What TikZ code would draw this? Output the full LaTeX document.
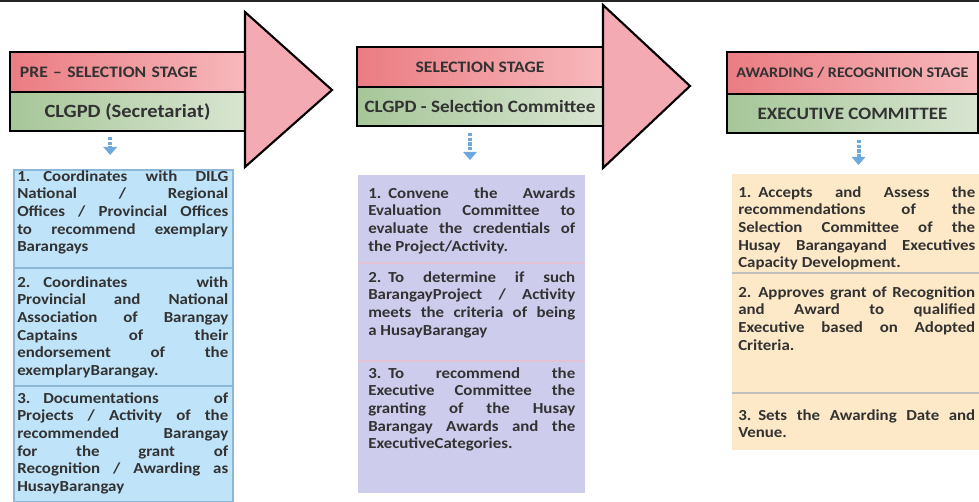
\documentclass[tikz,border=0pt]{standalone}
\usepackage{fontspec}
\setmainfont{Carlito}[FakeStretch=1.1]
\usetikzlibrary{arrows.meta,positioning}
\tikzset {>=Stealth}

\definecolor{inkgray}{RGB}{50,50,50}
\definecolor{stagepink}{RGB}{234,124,130}
\definecolor{stagepinklt}{RGB}{247,184,188}
\definecolor{headpink}{RGB}{244,170,178}
\definecolor{groupgreen}{RGB}{166,198,152}
\definecolor{groupgreenlt}{RGB}{216,229,209}
\definecolor{boxblue}{RGB}{191,227,248}
\definecolor{boxblueline}{RGB}{140,184,216}
\definecolor{boxlilac}{RGB}{206,204,237}
\definecolor{boxpeach}{RGB}{249,203,152}
\definecolor{boxpeachlt}{RGB}{253,233,200}
\definecolor{arrowblue}{RGB}{111,168,220}

\newcommand{\hsitem}[3]{\hangindent=#1\hangafter=1\noindent\makebox[#1][l]{#2}#3}

\tikzset{
  stagebar/.style={draw=black,line width=1.6pt,left color=stagepink,right color=stagepinklt,
    inner sep=0pt,outer sep=0pt,minimum height=30pt,text=inkgray,
    font=\fontsize{12}{14}\selectfont\bfseries},
  groupbar/.style={draw=black,line width=1.6pt,left color=groupgreen,right color=groupgreenlt,
    inner sep=0pt,outer sep=0pt,minimum height=29.25pt,text=inkgray,
    font=\fontsize{13}{15}\selectfont\bfseries},
  stagehead/.style={draw=black,line width=1.6pt,fill=headpink},
  downarrow/.style={arrowblue,line width=3pt,dash pattern=on 2.5pt off 1pt,
    -{Triangle[width=10pt,length=6pt]}},
  taskbox/.style={anchor=north west,inner sep=0pt,outer sep=0pt},
  taskitem/.style={anchor=north west,inner sep=0pt,align=justify,text=inkgray,
    font=\fontsize{11.5}{13.3}\selectfont\bfseries},
}

\begin{document}
\begin{tikzpicture}[x=0.75pt,y=-0.75pt]
\useasboundingbox (0,0) rectangle (979,502);
\draw[line width=1.5pt,black!85] (0,1) -- (979,1);

% pre-selection stage
\coordinate (H1a) at (245,12);
\coordinate (H1b) at (332,90);
\coordinate (H1c) at (245,167);
\node[stagebar,anchor=north west,text width=161.25pt,inner xsep=7.5pt,align=left] (S1) at (10,52) {PRE – SELECTION STAGE};
\node[groupbar,minimum width=176.25pt,below=0pt of S1,font=\fontsize{14}{16}\selectfont\bfseries] (G1) {CLGPD (Secretariat)};
\filldraw[stagehead] (H1a) -- (H1b) -- (H1c) -- cycle;

% selection stage
\coordinate (H2a) at (603,5);
\coordinate (H2b) at (690,86);
\coordinate (H2c) at (603,168);
\node[stagebar,anchor=north west,minimum width=184.5pt] (S2) at (357,47) {SELECTION STAGE};
\node[groupbar,minimum width=184.5pt,below=0pt of S2] (G2) {CLGPD - Selection Committee};
\filldraw[stagehead] (H2a) -- (H2b) -- (H2c) -- cycle;

% awarding stage
\node[stagebar,anchor=north west,minimum width=188.25pt,minimum height=31.5pt,font=\fontsize{11}{13}\selectfont\bfseries] (S3) at (727,52) {AWARDING / RECOGNITION STAGE};
\node[groupbar,minimum width=188.25pt,below=0pt of S3] (G3) {EXECUTIVE COMMITTEE};

% task boxes
\node[taskbox,draw=boxblueline,line width=0.8pt,fill=boxblue,minimum width=164.25pt,minimum height=249pt] (B1) at (14,170) {};
\draw[boxblueline,line width=0.8pt] (14,268) -- (233,268);
\draw[boxblueline,line width=0.8pt] (14,386) -- (233,386);

\node[taskbox,fill=boxlilac,minimum width=170.25pt,minimum height=238.5pt] (B2) at (358,175) {};
\draw[stagepinklt!50!boxlilac,line width=2pt] (358,263) -- (585,263);
\draw[stagepinklt!50!boxlilac,line width=2pt] (358,361) -- (585,361);

\node[taskbox,left color=boxpeachlt,middle color=boxpeach,right color=boxpeachlt,minimum width=185.25pt,minimum height=206.25pt] (B3) at (732,175) {};
\draw[black!25,line width=0.8pt] (732,273) -- (979,273);
\draw[black!25,line width=0.8pt] (732,393) -- (979,393);

\draw[downarrow,shorten <=4.5pt,shorten >=11.25pt] ([xshift=-13pt]G1.south) -- ([xshift=-13pt]G1.south |- B1.north);
\draw[downarrow,shorten <=5.25pt,shorten >=11.25pt] ([xshift=-7.5pt]G2.south) -- ([xshift=-7.5pt]G2.south |- B2.north);
\draw[downarrow,shorten <=5.25pt,shorten >=7.5pt] ([xshift=4.5pt]G3.south) -- ([xshift=4.5pt]G3.south |- B3.north);

% pre-selection tasks
\node[taskitem,text width=158.25pt] (L1) at (17,170) {\hsitem{19.5pt}{1.}{Coordinates with DILG\linebreak National / Regional\linebreak Offices / Provincial Offices\linebreak to recommend exemplary\linebreak Barangays}};
\node[taskitem,text width=158.25pt] (L2) at (17,276) {\hsitem{19.5pt}{2.}{Coordinates with\linebreak Provincial and National\linebreak Association of Barangay\linebreak Captains of their\linebreak endorsement of the\linebreak exemplaryBarangay.}};
\node[taskitem,text width=158.25pt] (L3) at (17,392) {\hsitem{19.5pt}{3.}{Documentations of\linebreak Projects / Activity of the\linebreak recommended Barangay\linebreak for the grant of\linebreak Recognition / Awarding as\linebreak HusayBarangay}};

% selection tasks
\node[taskitem,text width=155.25pt] (M1) at (368,187) {\hsitem{15pt}{1.}{Convene the Awards\linebreak Evaluation Committee to\linebreak evaluate the credentials of\linebreak the Project/Activity.}};
\node[taskitem,text width=155.25pt] (M2) at (368,271) {\hsitem{15pt}{2.}{To determine if such\linebreak BarangayProject / Activity\linebreak meets the criteria of being\linebreak a HusayBarangay}};
\node[taskitem,text width=155.25pt] (M3) at (368,367) {\hsitem{15pt}{3.}{To recommend the\linebreak Executive Committee the\linebreak granting of the Husay\linebreak Barangay Awards and the\linebreak ExecutiveCategories.}};

% awarding tasks
\node[taskitem,text width=177.75pt] (R1) at (738,186) {\hsitem{15pt}{1.}{Accepts and Assess the\linebreak recommendations of the\linebreak Selection Committee of the\linebreak Husay Barangayand Executives\linebreak Capacity Development.}};
\node[taskitem,text width=177.75pt] (R2) at (738,286) {\hsitem{15pt}{2.}{Approves grant of Recognition\linebreak and Award to qualified\linebreak Executive based on Adopted\linebreak Criteria.}};
\node[taskitem,text width=177.75pt] (R3) at (738,409) {\hsitem{15pt}{3.}{Sets the Awarding Date and\linebreak Venue.}};
\end{tikzpicture}
\end{document}
